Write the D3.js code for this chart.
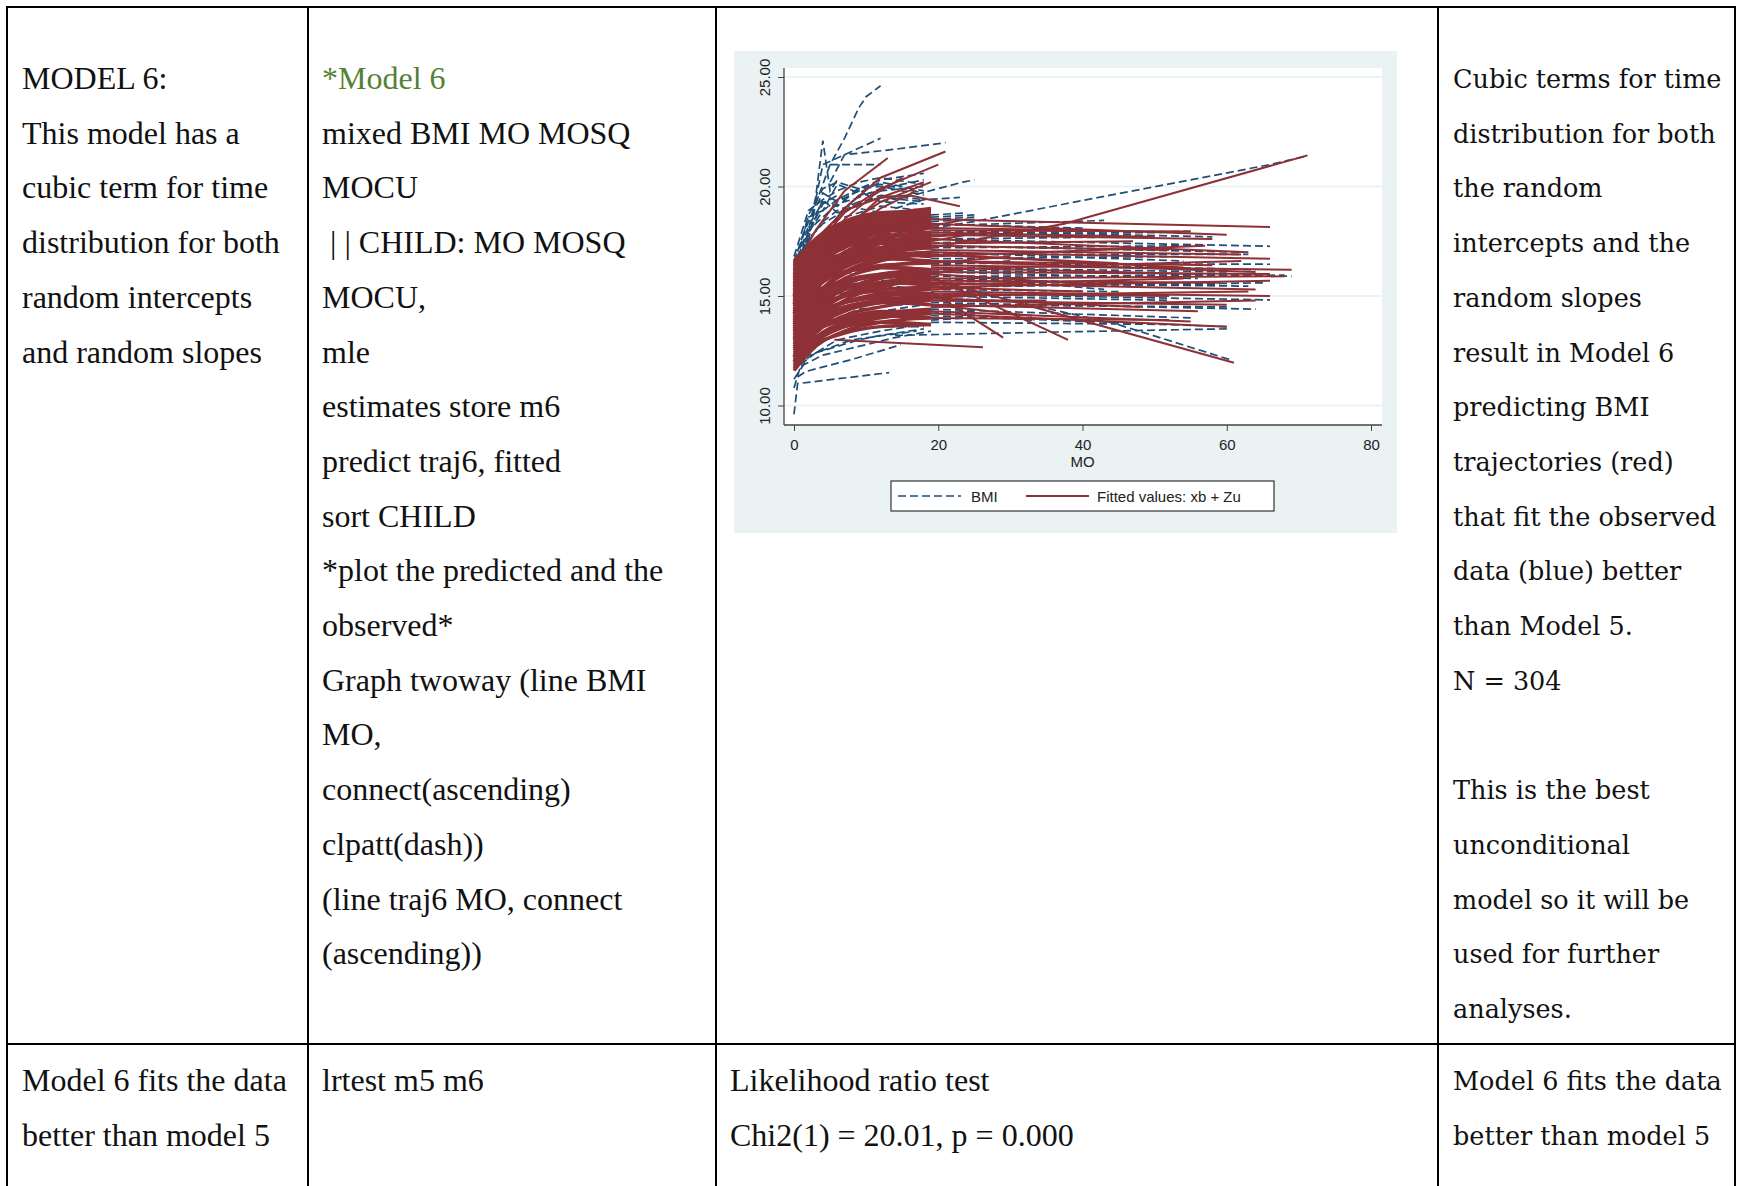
<!DOCTYPE html>
<html>
<head>
<meta charset="utf-8">
<script src="https://cdn.jsdelivr.net/npm/d3@7"></script>
<style>
  body { margin: 0; background: #fff; }
  text { white-space: pre; }
</style>
</head>
<body>
<div id="page"></div>
<script>
// ---- table text ----
const col1Top = ["MODEL 6:", "This model has a", "cubic term for time", "distribution for both", "random intercepts", "and random slopes"];
const col2Top = ["*Model 6", "mixed BMI MO MOSQ", "MOCU", " | | CHILD: MO MOSQ", "MOCU,", "mle", "estimates store m6",
  "predict traj6, fitted", "sort CHILD", "*plot the predicted and the", "observed*", "Graph twoway (line BMI", "MO,",
  "connect(ascending)", "clpatt(dash))", "(line traj6 MO, connect", "(ascending))"];
const col4Top = ["Cubic terms for time", "distribution for both", "the random", "intercepts and the", "random slopes",
  "result in Model 6", "predicting BMI", "trajectories (red)", "that fit the observed", "data (blue) better",
  "than Model 5.", "N = 304", "", "This is the best", "unconditional", "model so it will be", "used for further", "analyses."];
const col1Bottom = ["Model 6 fits the data", "better than model 5"];
const col2Bottom = ["lrtest m5 m6"];
const col3Bottom = ["Likelihood ratio test", "Chi2(1) = 20.01, p = 0.000"];
const col4Bottom = ["Model 6 fits the data", "better than model 5"];

// ---- chart values (MO, BMI) ----
const xTicks = [0, 20, 40, 60, 80];
const yTicks = [10, 15, 20, 25];

// observed BMI for the first months
const obsMonths = [0, 2, 4, 6, 9, 12, 18];
const obsEarly = [
  [16.8, 18.9, 19.4, 19.8, 20.2, 20.4, 20.1],
  [16.2, 18.2, 19.3, 19.1, 19.9, 20.3, 20.6],
  [15.9, 17.8, 19.4, 18.8, 19.2, 19.6, 19.4],
  [16.5, 18.6, 18.9, 20.1, 19.7, 20.2, 19.8],
  [15.4, 17.5, 18.4, 18.9, 19.3, 19.5, 19.3],
  [16.0, 17.9, 19.2, 19.6, 19.0, 18.8, 18.6],
  [15.1, 17.2, 17.9, 18.5, 18.8, 19.1, 18.9],
  [14.8, 16.6, 17.6, 18.0, 18.6, 18.4, 18.7],
  [14.4, 16.2, 17.0, 17.5, 17.9, 18.1, 17.8],
  [13.9, 15.7, 16.5, 17.1, 17.2, 17.5, 17.3],
  [13.6, 15.1, 16.0, 16.3, 16.7, 16.6, 16.9],
  [13.2, 14.8, 15.6, 16.0, 16.1, 16.4, 16.2],
  [12.9, 14.3, 15.2, 15.5, 15.9, 15.7, 15.8],
  [12.6, 14.0, 14.6, 15.1, 15.2, 15.5, 15.3],
  [12.3, 13.7, 14.4, 14.6, 14.9, 15.0, 15.1],
  [12.0, 12.8, 13.3, 13.5, 13.9, 14.0, 14.2],
  [11.6, 12.4, 12.9, 13.3, 13.5, 13.6, 13.6],
  [11.2, 12.2, 12.6, 13.0, 13.2, 13.4, 13.7],
  [11.9, 12.3, 12.5, 12.7, 13.0, 13.2, 13.5],
  [12.4, 13.3, 13.6, 13.9, 14.1, 14.3, 14.6],
  [15.6, 17.0, 17.8, 18.2, 18.1, 18.5, 18.3],
  [14.2, 15.9, 16.8, 17.4, 17.6, 17.7, 17.9],
  [13.4, 15.3, 16.1, 16.5, 16.9, 17.0, 16.8],
  [15.0, 16.4, 17.2, 17.6, 17.9, 17.8, 18.0],
  [14.6, 16.0, 16.9, 16.8, 17.3, 17.2, 17.4],
  [13.0, 14.6, 15.0, 15.4, 15.6, 15.9, 15.6],
  [12.2, 13.0, 13.8, 14.0, 14.4, 14.5, 14.7],
  [16.3, 18.0, 18.6, 19.2, 19.5, 19.9, 20.3],
  [15.7, 17.6, 18.3, 18.7, 19.6, 19.8, 20.0],
  [16.6, 18.4, 19.7, 19.3, 19.8, 19.3, 19.2],
  [16.1, 18.7, 19.9, 20.2, 19.9, 20.1, 19.7],
  [15.3, 17.9, 18.9, 19.4, 19.9, 20.0, 19.6]
];

// observed lines beyond 19 months and odd children: flat MO,BMI pairs
const obsTails = [
  [19, 18.6, 25, 18.7], [19, 18.4, 25, 18.5], [19, 18.2, 43, 18.45],
  [19, 18.1, 25, 18.4, 37.5, 19.2, 66, 21.0, 71.2, 21.4],
  [19, 17.9, 55, 17.95], [19, 17.6, 66, 17.27], [19, 17.8, 51, 17.9], [19, 17.2, 57, 17.3],
  [19, 16.9, 63, 16.9], [19, 16.5, 66, 16.45], [19, 16.2, 69, 15.9], [19, 15.9, 68, 15.95],
  [19, 16.3, 60, 16.1], [19, 15.6, 63, 15.45], [19, 15.1, 66, 14.82], [19, 14.7, 64, 14.4],
  [19, 14.4, 55, 14.0], [19, 14.1, 60, 13.6], [14, 13.2, 38.9, 13.37, 60, 13.5],
  [19, 15.6, 44.4, 13.75, 60.6, 12.08], [19, 14.9, 35, 14.7], [19, 15.3, 45, 15.2],
  [19, 16.7, 52, 16.8], [19, 17.4, 24, 17.5], [19, 14.2, 25, 14.3], [19, 13.9, 24, 14.0],
  [19, 18.0, 58, 17.7], [19, 17.3, 62, 17.0], [19, 16.6, 64, 16.2], [19, 16.1, 56, 15.8],
  [19, 15.8, 59, 15.5], [19, 15.4, 65, 15.6], [19, 15.0, 52, 14.8], [19, 14.6, 60, 14.5],
  [19, 13.8, 52, 13.7], [19, 17.0, 54, 16.6], [19, 17.6, 47, 17.7], [19, 18.3, 40, 18.1],
  [19, 16.0, 43, 15.3], [19, 14.3, 33, 13.9], [19, 18.5, 25, 18.6], [19, 18.7, 24, 18.8],
  [19, 16.4, 30, 16.6]
];
const obsOdd = [
  [0, 16.0, 2, 17.5, 3, 19.2, 5, 21.0, 7, 22.2, 9, 23.6, 10, 24.1, 12, 24.6],
  [1, 16.5, 3, 19.5, 4, 22.1, 5, 19.8, 6, 20.3],
  [3, 19.4, 4, 21.0, 8, 21.6, 12, 22.2],
  [5, 20.2, 7, 21.45, 14, 21.7, 21, 22.0],
  [5, 21.0, 12, 21.0],
  [12, 19.3, 16.5, 19.6, 23.4, 20.2, 25, 20.3],
  [14, 19.0, 18, 19.4, 23, 19.5],
  [0, 9.6, 0.5, 11.0, 13.2, 11.5],
  [0.5, 11.3, 1.6, 11.55, 8, 12.1, 14.8, 12.77],
  [1, 11.8, 4, 12.3, 14, 13.1, 19, 13.4],
  [0, 10.8, 1, 11.9, 3, 12.4, 8, 13.0, 17, 13.4]
];

// fitted values (xb + Zu)
const fitMonths = [0, 3, 7, 12, 19];
const fitEarly = [
  [11.6, 12.7, 13.4, 13.8, 14.0], [11.8, 13.0, 13.7, 14.1, 14.3], [12.0, 13.3, 14.1, 14.5, 14.8],
  [12.1, 13.1, 13.6, 13.8, 13.7], [12.3, 13.6, 14.4, 14.8, 15.0], [12.4, 13.4, 13.9, 14.2, 14.4],
  [12.6, 13.9, 14.7, 15.1, 15.3], [12.7, 14.1, 15.0, 15.5, 15.8], [12.9, 13.9, 14.5, 14.8, 14.9],
  [13.0, 14.4, 15.3, 15.8, 16.1], [13.1, 14.3, 15.0, 15.3, 15.4], [13.3, 14.8, 15.8, 16.3, 16.6],
  [13.4, 14.6, 15.3, 15.6, 15.7], [13.5, 15.0, 16.0, 16.6, 16.9], [13.6, 14.9, 15.6, 15.9, 16.0],
  [13.7, 15.3, 16.4, 17.0, 17.3], [13.8, 15.0, 15.7, 16.0, 16.1], [13.9, 15.4, 16.3, 16.8, 17.0],
  [14.0, 15.1, 15.7, 15.9, 15.8], [14.1, 15.6, 16.6, 17.2, 17.5], [14.2, 15.4, 16.1, 16.4, 16.5],
  [14.3, 15.9, 17.0, 17.6, 17.9], [14.4, 15.5, 16.1, 16.3, 16.2], [14.5, 16.0, 17.0, 17.5, 17.7],
  [14.6, 15.8, 16.5, 16.8, 16.9], [14.7, 16.3, 17.3, 17.9, 18.2], [14.8, 15.9, 16.5, 16.7, 16.6],
  [14.9, 16.4, 17.4, 17.9, 18.1], [15.0, 16.1, 16.7, 16.9, 16.8], [15.1, 16.6, 17.6, 18.1, 18.4],
  [15.2, 16.3, 16.9, 17.2, 17.2], [15.3, 16.8, 17.8, 18.3, 18.5], [15.4, 16.4, 16.9, 17.0, 16.8],
  [15.5, 16.9, 17.8, 18.2, 18.4], [15.6, 16.7, 17.3, 17.5, 17.4], [15.7, 17.1, 18.0, 18.5, 18.7],
  [15.8, 16.8, 17.3, 17.4, 17.2], [15.9, 17.2, 18.0, 18.4, 18.5], [16.0, 17.0, 17.5, 17.6, 17.4],
  [16.1, 17.3, 18.1, 18.5, 18.6], [16.2, 17.1, 17.6, 17.8, 17.7], [16.3, 17.5, 18.3, 18.7, 18.8],
  [16.4, 17.3, 17.8, 18.0, 17.9], [16.5, 17.6, 18.3, 18.6, 18.6], [16.6, 17.5, 18.0, 18.1, 17.8],
  [12.2, 13.8, 14.8, 15.4, 15.8], [13.2, 14.2, 14.7, 14.9, 14.8], [14.6, 16.2, 17.4, 18.1, 18.6],
  [15.0, 16.7, 17.9, 18.6, 19.0], [12.8, 13.6, 14.0, 14.1, 14.0],
  [11.7, 12.9, 13.6, 14.0, 14.2], [11.9, 12.8, 13.3, 13.6, 13.7], [12.2, 13.5, 14.3, 14.7, 14.9],
  [12.5, 13.7, 14.4, 14.7, 14.8], [12.8, 14.2, 15.1, 15.6, 15.9], [13.0, 14.1, 14.7, 15.0, 15.1],
  [13.2, 14.6, 15.5, 16.0, 16.2], [13.4, 15.0, 16.1, 16.7, 17.0], [13.6, 14.7, 15.3, 15.6, 15.6],
  [13.8, 15.3, 16.3, 16.9, 17.2], [14.0, 15.5, 16.5, 17.1, 17.4], [14.2, 15.7, 16.8, 17.4, 17.8],
  [14.4, 15.8, 16.7, 17.2, 17.4], [14.6, 16.0, 16.9, 17.4, 17.6], [14.8, 16.3, 17.2, 17.7, 17.9],
  [15.0, 16.5, 17.5, 18.0, 18.3], [15.2, 16.6, 17.5, 18.0, 18.2], [15.4, 16.8, 17.7, 18.2, 18.4],
  [15.6, 17.0, 17.9, 18.4, 18.6], [15.8, 17.1, 17.9, 18.3, 18.4], [16.0, 17.3, 18.1, 18.5, 18.7],
  [16.2, 17.4, 18.2, 18.6, 18.7], [16.4, 17.6, 18.4, 18.8, 18.9], [12.0, 13.1, 13.8, 14.1, 14.2],
  [12.6, 13.5, 14.0, 14.3, 14.3], [13.1, 14.0, 14.5, 14.7, 14.6], [13.5, 14.5, 15.0, 15.2, 15.1],
  [13.9, 14.9, 15.4, 15.6, 15.5], [14.3, 15.2, 15.7, 15.9, 15.8], [14.7, 15.6, 16.1, 16.3, 16.2]
];
const fitHigh = [
  [0, 16.2, 3, 18.0, 7, 19.8, 13, 21.3],
  [0, 15.5, 3, 17.4, 7, 19.0, 12, 20.4, 21, 21.6],
  [0, 15.8, 3, 17.3, 7, 18.8, 12, 19.9, 20, 21.0],
  [0, 15.2, 3, 16.8, 7, 18.2, 12, 19.3, 19, 20.2],
  [0, 15.9, 3, 17.6, 7, 18.9, 12, 19.5, 16, 19.6, 23, 19.1],
  [0, 15.0, 3, 16.7, 7, 18.0, 12, 19.5, 18, 20.2],
  [0, 14.9, 3, 16.5, 7, 17.8, 12, 19.0, 17, 19.8],
  [0, 15.4, 3, 17.0, 7, 18.5, 11, 19.6, 15, 20.4]
];
const fitTails = [
  [19, 18.5, 66, 18.15], [19, 18.3, 60, 17.8], [19, 18.0, 55, 17.95], [19, 17.6, 63, 17.0],
  [19, 17.3, 52, 17.1], [19, 17.0, 66, 16.7], [19, 16.4, 69, 16.2], [19, 16.8, 57, 17.3],
  [19, 16.1, 66, 16.0], [19, 15.8, 68, 15.9], [19, 16.6, 58, 16.4], [19, 16.2, 62, 16.6],
  [19, 15.5, 54, 15.8], [19, 15.2, 66, 15.0], [19, 15.6, 64, 15.3], [19, 15.0, 63, 15.2],
  [19, 14.6, 56, 14.3], [19, 14.3, 55, 13.83], [19, 14.2, 60, 13.6], [19, 14.9, 48, 14.5],
  [19, 15.4, 40, 15.2], [19, 14.8, 35, 14.8], [19, 15.8, 61, 11.95], [19, 15.2, 29, 13.1],
  [19, 15.9, 38, 13.0], [19, 17.2, 37.5, 18.3, 71.2, 21.42], [19, 17.9, 50, 17.7],
  [19, 16.9, 45, 16.5], [19, 16.0, 25, 16.3], [19, 17.5, 24, 17.8], [19, 18.2, 24, 18.5],
  [19, 14.5, 24, 14.6], [19, 15.3, 26, 15.4], [5.6, 13.0, 26.2, 12.66],
  [19, 17.8, 58, 17.6], [19, 17.1, 62, 16.9], [19, 16.6, 64, 16.1], [19, 16.3, 56, 16.0],
  [19, 15.7, 59, 15.6], [19, 15.4, 66, 15.7], [19, 15.1, 52, 15.0], [19, 14.8, 60, 14.6],
  [19, 14.5, 64, 14.8], [19, 14.0, 52, 13.9], [19, 16.9, 54, 16.3], [19, 17.4, 47, 17.5],
  [19, 18.1, 40, 18.0], [19, 16.0, 43, 15.5], [19, 14.6, 33, 14.1], [19, 16.5, 30, 16.8],
  [19, 17.7, 28, 17.9], [19, 15.5, 22, 15.6], [19, 16.8, 23, 17.0], [19, 14.9, 24, 15.0]
];

// ---------------------------------------------------------------
const W = 1737, H = 1186;
const svg = d3.select("#page").append("svg")
  .attr("width", W).attr("height", H)
  .style("display", "block");

svg.append("rect").attr("width", W).attr("height", H).attr("fill", "#fff");

// table grid
const colX = [7, 308, 716, 1438, 1735];
const rowY = [7, 1044];
const grid = svg.append("g").attr("stroke", "#000").attr("stroke-width", 2);
colX.forEach(cx => grid.append("line").attr("x1", cx).attr("x2", cx).attr("y1", 6).attr("y2", H));
rowY.forEach(ry => grid.append("line").attr("x1", 6).attr("x2", 1736).attr("y1", ry).attr("y2", ry));

// table text
const lineGap = 54.7;
function writeLines(lines, x, y0, font, size, colorFn) {
  svg.append("g").selectAll("text").data(lines).enter().append("text")
    .attr("x", x)
    .attr("y", (d, i) => y0 + i * lineGap)
    .attr("font-family", font)
    .attr("font-size", size)
    .attr("fill", (d, i) => colorFn ? colorFn(d, i) : "#111")
    .text(d => d);
}
const serif = "'Liberation Serif', 'Times New Roman', serif";
const wide = "'DejaVu Serif', serif";
writeLines(col1Top, 22, 89, serif, 32);
writeLines(col2Top, 322, 89, serif, 32, (d, i) => i === 0 ? "#548235" : "#111");
writeLines(col4Top, 1453, 88, wide, 25.5);
writeLines(col1Bottom, 22, 1091, serif, 32);
writeLines(col2Bottom, 322, 1091, serif, 32);
writeLines(col3Bottom, 730, 1091, serif, 32);
writeLines(col4Bottom, 1453, 1090, wide, 25.5);

// ---- embedded Stata-style graph ----
const g = svg.append("g");
const plot = {left: 784, right: 1382, top: 68, bottom: 425};

g.append("rect").attr("x", 734).attr("y", 51).attr("width", 663).attr("height", 482).attr("fill", "#eaf2f3");
g.append("rect").attr("x", plot.left).attr("y", plot.top)
  .attr("width", plot.right - plot.left).attr("height", plot.bottom - plot.top).attr("fill", "#fff");

const x = d3.scaleLinear().domain([0, 80]).range([794, 1371]);
const y = d3.scaleLinear().domain([10, 25]).range([405.5, 77]);

// gridlines
g.append("g").selectAll("line").data(yTicks).enter().append("line")
  .attr("x1", plot.left).attr("x2", plot.right)
  .attr("y1", d => y(d)).attr("y2", d => y(d))
  .attr("stroke", "#e6eff1").attr("stroke-width", 1.5);

function pairs(flat) {
  let out = [];
  for (let i = 0; i < flat.length; i += 2) out.push([flat[i], flat[i + 1]]);
  return out;
}

let obsPaths = obsEarly.map(r => obsMonths.map((m, i) => [m, r[i]]))
  .concat(obsTails.map(pairs), obsOdd.map(pairs));
let fitBlob = fitEarly.map(r => fitMonths.map((m, i) => [m, r[i]]));
let fitPaths = fitHigh.map(pairs).concat(fitTails.map(pairs));

const obsLine = d3.line().x(d => x(d[0])).y(d => y(d[1]));
const fitLine = d3.line().x(d => x(d[0])).y(d => y(d[1])).curve(d3.curveMonotoneX);

const blue = "#1f4e76", red = "#8e3136";

g.append("g").selectAll("path").data(obsPaths).enter().append("path")
  .attr("d", obsLine)
  .attr("fill", "none").attr("stroke", blue).attr("stroke-width", 1.7)
  .attr("stroke-dasharray", "8,4");

g.append("g").selectAll("path").data(fitPaths).enter().append("path")
  .attr("d", obsLine)
  .attr("fill", "none").attr("stroke", red).attr("stroke-width", 2);

g.append("g").selectAll("path").data(fitBlob).enter().append("path")
  .attr("d", fitLine)
  .attr("fill", "none").attr("stroke", red).attr("stroke-width", 3.4);

// axes
const axisColor = "#444";
const sans = "'Liberation Sans', Arial, sans-serif";

let yAx = g.append("g").attr("transform", "translate(" + plot.left + ",0)")
  .call(d3.axisLeft(y).tickValues(yTicks).tickSize(6).tickFormat(d3.format(".2f")));
yAx.select(".domain").remove();
yAx.selectAll("line").attr("stroke", axisColor);
yAx.selectAll("text")
  .attr("x", 0).attr("dy", 0)
  .attr("text-anchor", "middle")
  .attr("transform", "translate(-14,0) rotate(-90)")
  .attr("font-family", sans).attr("font-size", 15).attr("fill", "#222");

let xAx = g.append("g").attr("transform", "translate(0," + plot.bottom + ")")
  .call(d3.axisBottom(x).tickValues(xTicks).tickSize(6).tickPadding(8));
xAx.select(".domain").remove();
xAx.selectAll("line").attr("stroke", axisColor);
xAx.selectAll("text").attr("font-family", sans).attr("font-size", 15).attr("fill", "#222");

g.append("line").attr("x1", plot.left).attr("x2", plot.left).attr("y1", plot.top).attr("y2", plot.bottom)
  .attr("stroke", axisColor).attr("stroke-width", 1.3);
g.append("line").attr("x1", plot.left).attr("x2", plot.right).attr("y1", plot.bottom).attr("y2", plot.bottom)
  .attr("stroke", axisColor).attr("stroke-width", 1.3);

g.append("text").attr("x", (x(0) + x(80)) / 2).attr("y", 467)
  .attr("text-anchor", "middle").attr("font-family", sans).attr("font-size", 15).attr("fill", "#222")
  .text("MO");

// legend
const leg = g.append("g");
leg.append("rect").attr("x", 891).attr("y", 481).attr("width", 383).attr("height", 30)
  .attr("fill", "#fff").attr("stroke", "#333").attr("stroke-width", 1.2);
leg.append("line").attr("x1", 898).attr("x2", 961).attr("y1", 496).attr("y2", 496)
  .attr("stroke", blue).attr("stroke-width", 1.7).attr("stroke-dasharray", "8,4");
leg.append("text").attr("x", 971).attr("y", 501.5)
  .attr("font-family", sans).attr("font-size", 15).attr("fill", "#222").text("BMI");
leg.append("line").attr("x1", 1026).attr("x2", 1089).attr("y1", 496).attr("y2", 496)
  .attr("stroke", red).attr("stroke-width", 2);
leg.append("text").attr("x", 1097).attr("y", 501.5)
  .attr("font-family", sans).attr("font-size", 15).attr("fill", "#222").text("Fitted values: xb + Zu");
</script>
</body>
</html>
